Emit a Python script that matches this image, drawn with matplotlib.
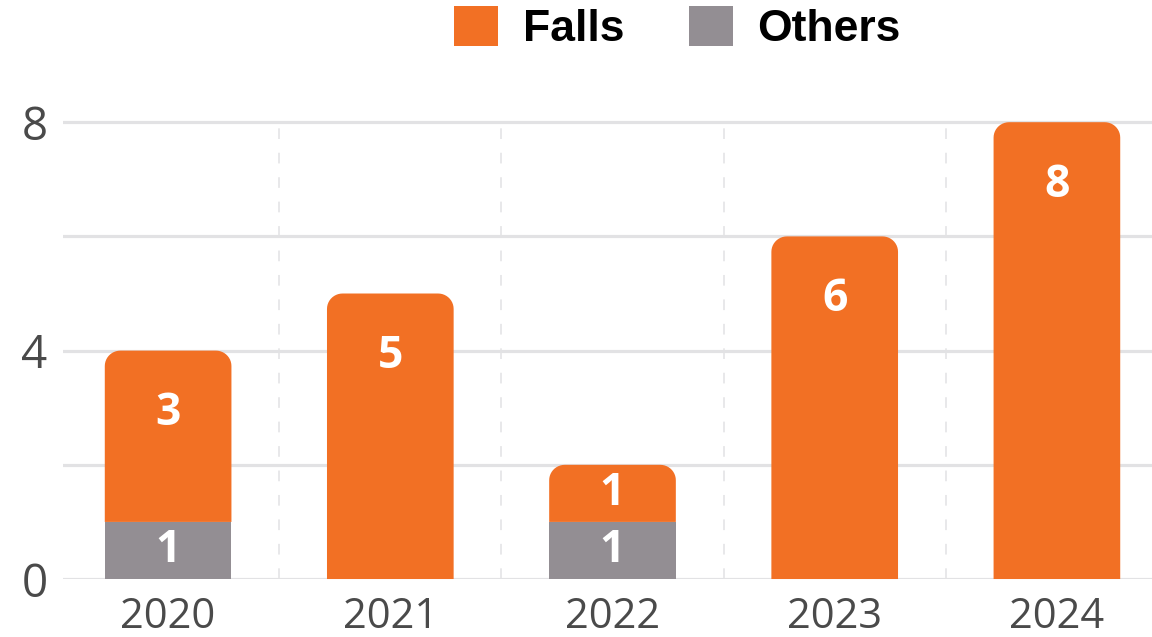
import matplotlib
matplotlib.use('Agg')
import matplotlib.pyplot as plt
import numpy as np
from matplotlib.patches import Polygon, Patch

years = ['2020', '2021', '2022', '2023', '2024']
falls = [3, 5, 1, 6, 8]
others = [1, 0, 1, 0, 0]

orange = '#F27024'
grey = '#938E93'
gridc = '#E2E2E4'

fig = plt.figure(figsize=(11.52, 6.37), dpi=100)
ax = fig.add_axes([0.0547, 0.091, 0.9453, 0.762])

x = list(range(len(years)))
bw = 0.57

# others at the bottom, plain bars
ax.bar(x, others, width=bw, color=grey, zorder=3)

# falls on top, redrawn as one polygon with rounded top corners
bars = ax.bar(x, falls, width=bw, bottom=others, color=orange, zorder=3)
rx = 0.07           # corner radius in x units
ry = rx * 3.85      # same radius on screen, in y units
t = np.linspace(0, np.pi / 2, 12)
for b in bars:
    bx, by, w, h = b.get_x(), b.get_y(), b.get_width(), b.get_height()
    b.remove()
    top = by + h
    right = np.column_stack([bx + w - rx + rx * np.cos(t), top - ry + ry * np.sin(t)])
    left = np.column_stack([bx + rx - rx * np.sin(t), top - ry + ry * np.cos(t)])
    pts = np.vstack([[bx, by], [bx + w, by], right, left])
    ax.add_patch(Polygon(pts, closed=True, fc=orange, ec='none', zorder=3, clip_on=False))

# value labels
for i in x:
    if others[i] > 0:
        ax.text(i, others[i] / 2, str(others[i]), ha='center', va='center',
                color='white', fontsize=32, fontweight='bold', family='Open Sans', zorder=4)
    top = others[i] + falls[i]
    ly = top - min(falls[i] / 2, 1.1)
    ax.text(i, ly, str(falls[i]), ha='center', va='center',
            color='white', fontsize=32, fontweight='bold', family='Open Sans', zorder=4)

# grid
for g in [0, 2, 4, 6, 8]:
    ax.axhline(g, color=gridc, lw=2.3, zorder=1)
ax.vlines([0.5, 1.5, 2.5, 3.5], 0, 8, colors=gridc, lw=1.1, linestyles=(0, (7, 9)), zorder=1)

ax.set_xlim(-0.473, 4.428)
ax.set_ylim(0, 8.5)
ax.set_yticks([0, 4, 8])
ax.set_xticks(x)
ax.set_xticklabels(years)
for s in ax.spines.values():
    s.set_visible(False)
ax.tick_params(axis='both', length=0, colors='#4A4A4A', labelsize=30)
ax.tick_params(axis='y', pad=11, labelsize=33)
ax.tick_params(axis='x', pad=12)
for lab in ax.get_xticklabels() + ax.get_yticklabels():
    lab.set_family('Open Sans')

handles = [Patch(fc=orange, ec='none'), Patch(fc=grey, ec='none')]
fig.legend(handles, ['Falls', 'Others'], loc='center', bbox_to_anchor=(0.588, 0.956),
           ncol=2, frameon=False, handlelength=1.0, handleheight=1.0,
           handletextpad=0.55, columnspacing=1.45,
           prop={'family': 'Liberation Sans', 'weight': 'bold', 'size': 32})

fig.savefig('out.png', dpi=100)
